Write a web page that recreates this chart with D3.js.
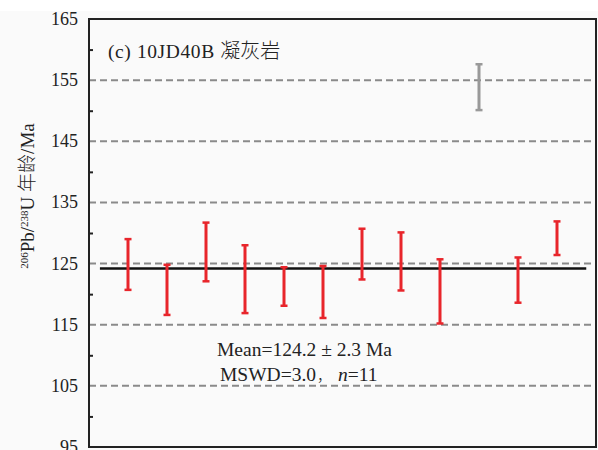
<!DOCTYPE html>
<html><head><meta charset="utf-8">
<script src="https://cdn.jsdelivr.net/npm/d3@7"></script>
<style>
html,body{margin:0;padding:0;background:#fff;}
svg{display:block;}
text{font-family:"Liberation Serif","Times New Roman",serif;fill:#222;}
.cjk{font-family:"Noto Sans CJK SC",sans-serif;font-weight:300;}
.lat{font-family:"Liberation Serif",serif;}
</style></head>
<body><svg id="c" width="598" height="450"></svg>
<script>
// Data
const spotIndex = [1,2,3,4,5,6,7,8,9,10,11,12];
const ageLow  = [120.7,116.6,122.1,116.9,118.1,116.1,122.4,120.6,115.2,150.1,118.6,126.4];
const ageHigh = [129.0,124.8,131.7,128.0,124.4,124.6,130.7,130.1,125.7,157.6,126.0,131.9];
const excluded = [false,false,false,false,false,false,false,false,false,true,false,false];
const meanAge = 124.2;
const yTicks = [95,105,115,125,135,145,155,165];
const gridValues = [105,115,125,135,145,155];
const minorTicks = [100,110,120,130,140,150,160];

const svg = d3.select("#c");
const L=89, R=596, T=19, B=447;
svg.append("rect").attr("x",0).attr("y",11).attr("width",598).attr("height",439).attr("fill","#fafafa");

const x = d3.scaleLinear().domain([0,13]).range([L,R]);
const y = d3.scaleLinear().domain([95,165]).range([B,T]);

// grid
svg.append("g").selectAll("line").data(gridValues).join("line")
  .attr("x1",L).attr("x2",R).attr("y1",d=>y(d)).attr("y2",d=>y(d))
  .attr("stroke","#8a8a8a").attr("stroke-width",2).attr("stroke-dasharray","7,4");

// y axis ticks (inward)
const yAxis = d3.axisRight(y).tickValues(minorTicks).tickSize(4).tickFormat("");
const ga = svg.append("g").attr("transform",`translate(${L},0)`).call(yAxis);
ga.select(".domain").remove();
ga.selectAll("line").attr("stroke","#222").attr("stroke-width",2);

// tick labels
svg.append("g").selectAll("text").data(yTicks).join("text")
  .attr("class","lat")
  .attr("x",78).attr("y",d=>y(d)).attr("dy","0.33em").attr("text-anchor","end")
  .attr("font-size",18).text(d=>d);

// frame
svg.append("rect").attr("x",L).attr("y",T).attr("width",R-L).attr("height",B-T)
  .attr("fill","none").attr("stroke","#222").attr("stroke-width",2);

// mean line
svg.append("line").attr("x1",x(0.28)).attr("x2",x(12.75)).attr("y1",y(meanAge)).attr("y2",y(meanAge))
  .attr("stroke","#111").attr("stroke-width",2.5);

// error bars
const g = svg.append("g");
spotIndex.forEach((s,i)=>{
  const c = excluded[i] ? "#999999" : "#e8252b";
  const cx = x(s);
  g.append("line").attr("x1",cx).attr("x2",cx).attr("y1",y(ageLow[i])).attr("y2",y(ageHigh[i]))
    .attr("stroke",c).attr("stroke-width",3);
  [ageLow[i],ageHigh[i]].forEach(v=>{
    g.append("line").attr("x1",cx-3.5).attr("x2",cx+3.5).attr("y1",y(v)).attr("y2",y(v))
      .attr("stroke",c).attr("stroke-width",2.5);
  });
});

// title
const t = svg.append("text").attr("x",108).attr("y",58).attr("font-size",19.5);
t.append("tspan").attr("class","lat").attr("letter-spacing","0.6").text("(c) 10JD40B ");
t.append("tspan").attr("class","cjk").attr("font-size",20).text("凝灰岩");

// stats text
svg.append("text").attr("class","lat").attr("x",217).attr("y",356).attr("font-size",19.5).text("Mean=124.2 ± 2.3 Ma");
const s2 = svg.append("text").attr("x",220).attr("y",381).attr("font-size",19.5);
s2.append("tspan").attr("class","lat").text("MSWD=3.0");
s2.append("tspan").attr("class","cjk").attr("font-size",15).attr("dx",1).text("，");
s2.append("tspan").attr("class","lat").attr("font-style","italic").attr("dx",6).text("n");
s2.append("tspan").attr("class","lat").text("=11");

// y label
const yl = svg.append("text").attr("transform","translate(34,196) rotate(-90)")
  .attr("text-anchor","middle").attr("font-size",19);
yl.append("tspan").attr("class","lat").attr("font-size",11).attr("dy","-6").text("206");
yl.append("tspan").attr("class","lat").attr("dy","6").text("Pb/");
yl.append("tspan").attr("class","lat").attr("font-size",11).attr("dy","-6").text("238");
yl.append("tspan").attr("class","lat").attr("dy","6").text("U ");
yl.append("tspan").attr("class","cjk").text("年龄");
yl.append("tspan").attr("class","lat").text("/Ma");
</script></body></html>
